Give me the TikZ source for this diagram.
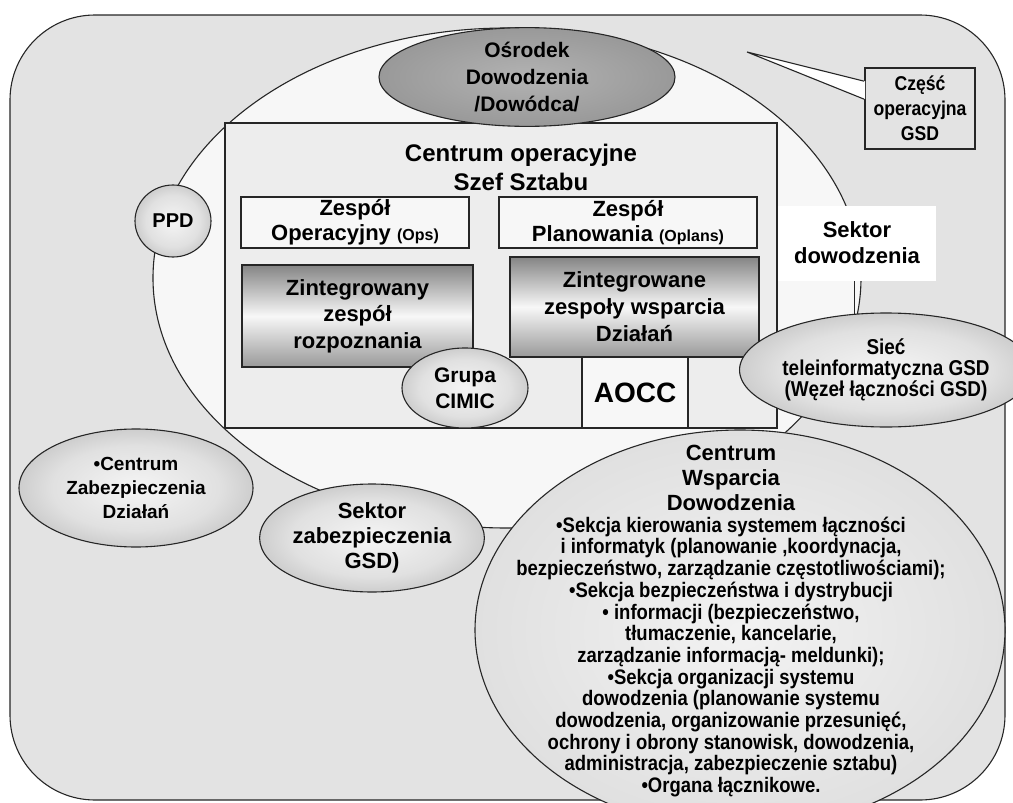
\documentclass[tikz,border=0pt]{standalone}
\usepackage{fontspec}
\setmainfont{Liberation Sans}
\newfontfamily\narrowfont[FakeStretch=0.88]{Liberation Sans}
\usetikzlibrary{shapes.geometric,calc}
\newcommand{\setsz}[2]{\fontsize{#1}{#2}\selectfont\bfseries}

% soft radial fills for the oval elements
\pgfdeclareradialshading{ballshade}{\pgfpoint{0bp}{0bp}}{color(0bp)=(black!4); color(18bp)=(black!12); color(50bp)=(black!46)}
\pgfdeclareradialshading{darkshade}{\pgfpoint{0bp}{0bp}}{color(0bp)=(black!30); color(25bp)=(black!40); color(50bp)=(black!58)}
\pgfdeclareradialshading{bigshade}{\pgfpoint{0bp}{0bp}}{color(0bp)=(black!5); color(28bp)=(black!13); color(50bp)=(black!44)}

\begin{document}
\begin{tikzpicture}[x=1pt,y=-1pt,
  outline/.style={draw=black!85,line width=1.1pt},
  oval/.style={ellipse,outline,inner sep=0pt,align=center},
  ball/.style={oval,shading=ballshade},
  panel/.style={rectangle,outline,inner sep=0pt,align=center},
  plainbox/.style={panel,fill=black!3},
  gradbox/.style={panel,top color=black!48,bottom color=black!40,middle color=black!3},
  label/.style={align=center,inner sep=0pt}
]
\useasboundingbox (0,0) rectangle (1013,803);
\clip (0,0) rectangle (1013,803);

% outer frame and the command sector
\draw[outline,fill=black!11,rounded corners=85pt] (10,15) rectangle (1005,800);
\node[oval,fill=black!3,minimum width=708pt,minimum height=500pt] (sector) at (507,278) {};

% operations centre
\node[panel,fill=black!7,minimum width=552pt,minimum height=305pt] (opc) at (501,275.5) {};
\node[label,font=\setsz{24}{29}] (opctitle) at (521,167) {Centrum operacyjne\\Szef Sztabu};

\node[plainbox,minimum width=228pt,minimum height=51pt,font=\setsz{22}{25}] (ops) at (355,222.5)
  {Zespół\\Operacyjny {\setsz{16}{25}(Ops)}};
\node[plainbox,minimum width=258pt,minimum height=51pt,font=\setsz{22}{25}] (oplans) at (628,222.5)
  {Zespół\\Planowania {\setsz{16}{25}(Oplans)}};

\node[gradbox,minimum width=231pt,minimum height=102pt,font=\setsz{22}{26.5}] (rozp) at (357.5,316)
  {Zintegrowany\\zespół\\rozpoznania};
\node[gradbox,minimum width=249pt,minimum height=100pt,font=\setsz{22}{27}] (wsp) at (634.5,307)
  {Zintegrowane\\zespoły wsparcia\\Działań};
\node[plainbox,minimum width=106pt,minimum height=71pt,font=\setsz{28}{30}] (aocc) at (635,392.5) {AOCC};

\node[ball,minimum width=126pt,minimum height=80pt,font=\setsz{21}{26}] (cimic) at (465,388) {Grupa\\CIMIC};

% commander
\node[oval,shading=darkshade,minimum width=296pt,minimum height=88pt,font=\setsz{21}{27}] (osr) at (527,77)
  {Ośrodek\\Dowodzenia\\/Dowódca/};

% callout box
\coordinate (tip) at (747,52);
\node[rectangle,draw=black!85,line width=1.6pt,fill=black!11,minimum width=110pt,minimum height=81pt,
  inner sep=0pt,align=center,font=\narrowfont\setsz{20}{25}] (gsd) at (920,108.5)
  {Część\\operacyjna\\GSD};
\fill[white] (tip) -- ($(gsd.north west)+(1,14)$) -- ($(gsd.north west)+(1,32)$) -- cycle;
\draw[outline] ($(gsd.north west)+(0,14)$) -- (tip) -- ($(gsd.north west)+(0,32)$);

% sector label and network
\node[rectangle,fill=white,minimum width=158pt,minimum height=75pt,inner sep=0pt,align=center,
  font=\setsz{22}{26}] (sekdow) at (857,243) {Sektor\\dowodzenia};
\node[ball,minimum width=216pt,minimum height=114pt,font=\narrowfont\setsz{21.5}{21}] (siec) at (886,370)
  {Sieć\\teleinformatyczna GSD\\(Węzeł łączności GSD)};
\draw[outline] (siec.119) -- (siec.119 |- sekdow.south);

\node[ball,minimum width=76pt,minimum height=72pt,font=\setsz{20}{24}] (ppd) at (173,221) {PPD};

% support elements
\node[ball,minimum width=234pt,minimum height=118pt,font=\setsz{19}{24}] (czd) at (136,488)
  {•Centrum\\Zabezpieczenia\\Działań};
\node[ball,minimum width=224pt,minimum height=108pt,font=\setsz{22}{25}] (szg) at (372,538)
  {Sektor\\zabezpieczenia\\GSD)};

\node[oval,shading=bigshade,minimum width=530pt,minimum height=400pt] (cwd) at (740,630) {};
\node[label,font=\setsz{22}{25}] (cwdtitle) at (731,478) {Centrum\\Wsparcia\\Dowodzenia};
\node[label,font=\narrowfont\setsz{21}{21.7}] (cwdlist) at (731,657)
  {•Sekcja kierowania systemem łączności\\
   i informatyk (planowanie ,koordynacja,\\
   bezpieczeństwo, zarządzanie częstotliwościami);\\
   •Sekcja bezpieczeństwa i dystrybucji\\
   • informacji (bezpieczeństwo,\\
   tłumaczenie, kancelarie,\\
   zarządzanie informacją- meldunki);\\
   •Sekcja organizacji systemu\\
   dowodzenia (planowanie systemu\\
   dowodzenia, organizowanie przesunięć,\\
   ochrony i obrony stanowisk, dowodzenia,\\
   administracja, zabezpieczenie sztabu)\\
   •Organa łącznikowe.};
\end{tikzpicture}
\end{document}
